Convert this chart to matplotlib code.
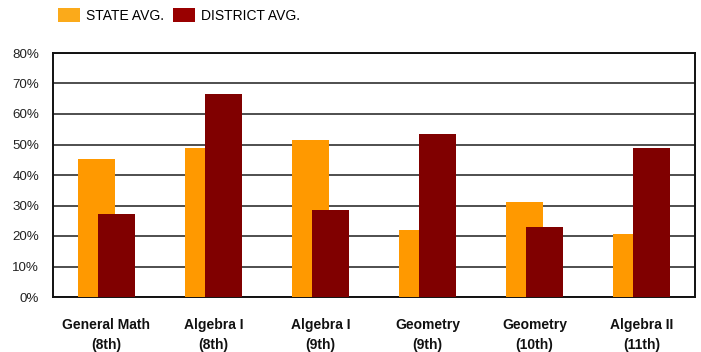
import matplotlib
matplotlib.use("Agg")
import matplotlib.pyplot as plt
from matplotlib.patches import Patch
import numpy as np

courses = ["General Math\n(8th)", "Algebra I\n(8th)", "Algebra I\n(9th)",
           "Geometry\n(9th)", "Geometry\n(10th)", "Algebra II\n(11th)"]
state_avg = [45.1, 49.0, 51.6, 22.0, 31.2, 20.7]
district_avg = [27.3, 66.4, 28.6, 53.6, 23.0, 49.0]
y_ticks = [0, 10, 20, 30, 40, 50, 60, 70, 80]

STATE_COLOR = "#FF9900"
DISTRICT_COLOR = "#800000"

plt.rcParams["font.family"] = ["Liberation Sans", "DejaVu Sans"]

fig = plt.figure(figsize=(7.01, 3.52), dpi=100)
ax = fig.add_axes([53 / 701, 55 / 352, 642 / 701, 244 / 352])

x = np.arange(len(courses))
width = 0.346
offset = 0.0935
ax.bar(x - offset, state_avg, width, color=STATE_COLOR, zorder=3)
ax.bar(x + offset, district_avg, width, color=DISTRICT_COLOR, zorder=4)

ax.set_xlim(-0.5, len(courses) - 0.5)
ax.set_ylim(0, 80)
ax.set_yticks(y_ticks)
ax.set_yticklabels([f"{v}%" for v in y_ticks], fontsize=9.6, color="#222222")
ax.yaxis.grid(True, color="#404040", linewidth=1.3, zorder=1)
ax.set_axisbelow(True)
ax.tick_params(axis="y", length=0, pad=10)
ax.tick_params(axis="x", length=0, pad=15)
ax.set_xticks(x)
ax.set_xticklabels(courses, fontsize=10, fontweight="bold",
                   family=["Liberation Sans Narrow", "Liberation Sans", "DejaVu Sans"],
                   linespacing=1.55, color="#111111")

for side in ["left", "right", "top", "bottom"]:
    ax.spines[side].set_color("#111111")
    ax.spines[side].set_linewidth(1.4)

handles = [Patch(facecolor="#FBAA1A", edgecolor="none", label="STATE AVG."),
           Patch(facecolor="#990000", edgecolor="none", label="DISTRICT AVG.")]
fig.legend(handles=handles, loc="upper left", bbox_to_anchor=(48 / 701, 1.005),
           ncol=2, frameon=False, fontsize=10, handlelength=1.6,
           handleheight=1.2, handletextpad=0.4, columnspacing=0.7,
           borderaxespad=0.3)

fig.savefig("out.png", dpi=100)
